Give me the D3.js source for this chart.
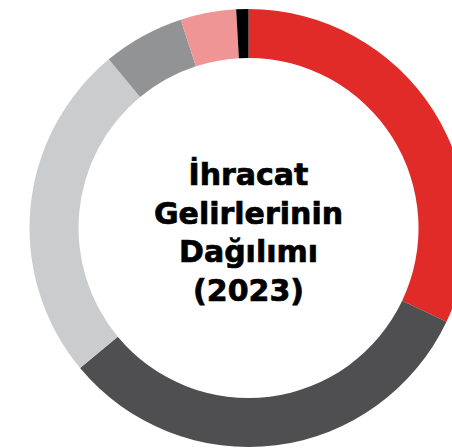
<!DOCTYPE html>
<html>
<head>
<meta charset="utf-8">
<script src="https://cdn.jsdelivr.net/npm/d3@7"></script>
<style>
  body { margin: 0; background: #fff; }
  svg { display: block; }
</style>
</head>
<body>
<div id="chart"></div>
<script>
// segments clockwise from 12 o'clock
const categories = ["A", "B", "C", "D", "E", "F"];
const values = [32, 31.9, 25, 6, 4.1, 0.9];
const colors = ["#e02b28", "#4f4f51", "#cbcccd", "#929395", "#f09595", "#000000"];
const titleLines = ["İhracat", "Gelirlerinin", "Dağılımı", "(2023)"];

const width = 452, height = 448;
const cx = 248.5, cy = 228, outerR = 219, innerR = 170;

const svg = d3.select("#chart")
    .append("svg")
    .attr("width", width)
    .attr("height", height)
    .attr("viewBox", [0, 0, width, height]);

const data = categories.map((c, i) => ({ name: c, value: values[i], color: colors[i] }));

const pie = d3.pie()
    .value(d => d.value)
    .sort(null);

const arc = d3.arc()
    .innerRadius(innerR)
    .outerRadius(outerR);

const g = svg.append("g")
    .attr("transform", `translate(${cx},${cy})`);

g.selectAll("path")
    .data(pie(data))
    .join("path")
    .attr("d", arc)
    .attr("fill", d => d.data.color);

// title in the middle, a thin stroke to make it look heavier
g.append("text")
    .attr("text-anchor", "middle")
    .style("font-family", "'DejaVu Sans', sans-serif")
    .style("font-weight", "bold")
    .style("font-size", "30px")
    .attr("fill", "#000")
    .attr("stroke", "#000")
    .attr("stroke-width", 0.7)
    .selectAll("tspan")
    .data(titleLines)
    .join("tspan")
    .attr("x", 0)
    .attr("y", (d, i) => -43 + i * 38.5)
    .text(d => d);
</script>
</body>
</html>
